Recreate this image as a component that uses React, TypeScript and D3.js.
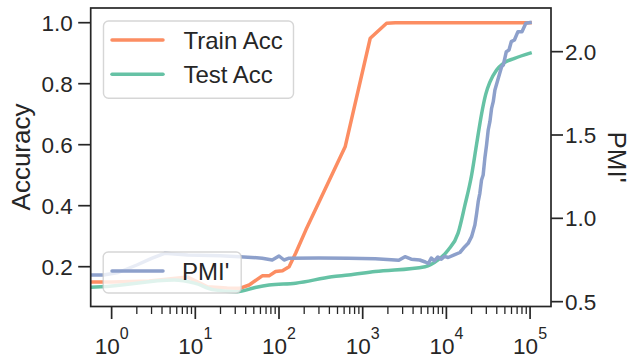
import React from "react";
import * as d3 from "d3";

// ---------- data ----------
const trainSteps = [0.56, 1, 2.8, 8.1, 14, 24, 34, 44, 63, 76, 91, 110, 132, 158, 209, 617, 1230, 1930, 2450, 100000];
const trainAcc = [0.15, 0.15, 0.153, 0.166, 0.134, 0.13, 0.129, 0.14, 0.17, 0.17, 0.184, 0.187, 0.2, 0.244, 0.32, 0.593, 0.949, 0.998, 1.0, 1.0];

const testSteps = [0.56, 0.74, 5.6, 9.8, 16.8, 31.6, 52, 76, 158, 427, 676, 1410, 5560, 7940, 10500, 13800, 16600, 20000, 22900, 26300, 29500, 33100, 39800, 47900, 65300, 100000];
const testAcc = [0.133, 0.134, 0.156, 0.146, 0.124, 0.118, 0.132, 0.14, 0.146, 0.167, 0.173, 0.184, 0.2, 0.222, 0.255, 0.31, 0.4, 0.5, 0.6, 0.7, 0.765, 0.805, 0.845, 0.867, 0.883, 0.9];

const pmiSteps = [0.56, 0.8, 1.2, 2.0, 3.0, 4.3, 8.1, 20, 34, 63, 83, 100, 115, 132, 300, 676, 1410, 2200, 2700, 3200, 3800, 4800, 5600, 6100, 6600, 7200, 7900, 8700, 9500, 10500, 12600, 14500, 16600, 18200, 20000, 21900, 23000, 24000, 25100, 26300, 27500, 28800, 30200, 31600, 33100, 34700, 36300, 38000, 41700, 45700, 47900, 52000, 56000, 59600, 65000, 71600, 80000, 89000, 100000];
const pmiVals = [0.66, 0.66, 0.675, 0.72, 0.76, 0.79, 0.78, 0.775, 0.77, 0.761, 0.75, 0.774, 0.75, 0.761, 0.762, 0.761, 0.757, 0.752, 0.748, 0.77, 0.755, 0.75, 0.738, 0.73, 0.762, 0.745, 0.768, 0.755, 0.772, 0.765, 0.782, 0.795, 0.83, 0.85, 0.89, 0.96, 1.031, 1.1, 1.15, 1.23, 1.26, 1.36, 1.44, 1.53, 1.58, 1.66, 1.7, 1.77, 1.84, 1.91, 1.92, 2.0, 2.01, 2.06, 2.07, 2.12, 2.12, 2.17, 2.175];

const accTicks = [0.2, 0.4, 0.6, 0.8, 1.0];
const accTickLabels = ["0.2", "0.4", "0.6", "0.8", "1.0"];
const pmiTicks = [0.5, 1.0, 1.5, 2.0];
const pmiTickLabels = ["0.5", "1.0", "1.5", "2.0"];
const xExponents = [0, 1, 2, 3, 4, 5];

const seriesNames = ["Train Acc", "Test Acc", "PMI'"];
const colors = ["#fc8d62", "#66c2a5", "#8da0cb"];

// ---------- layout ----------
const W = 636;
const H = 360;
const L = 90.7;
const R = 551;
const T = 8;
const B = 306.5;
const FONT = "'Liberation Sans', Arial, Helvetica, sans-serif";
const INK = "#262626";

export default function App() {
  const x = d3.scaleLog().domain([Math.pow(10, -0.25), Math.pow(10, 5.25)]).range([L, R]);
  const yL = d3.scaleLinear().domain([0.0695, 1.0482]).range([B, T]);
  const yR = d3.scaleLinear().domain([0.471, 2.262]).range([B, T]);

  const mk = (steps: number[], vals: number[], ys: d3.ScaleLinear<number, number>, curve: d3.CurveFactory) =>
    d3.line<number>().x((_, i) => x(steps[i])).y((v) => ys(v)).curve(curve)(vals) || "";

  const trainPath = mk(trainSteps, trainAcc, yL, d3.curveLinear);
  const testPath = mk(testSteps, testAcc, yL, d3.curveMonotoneX);
  const pmiPath = mk(pmiSteps, pmiVals, yR, d3.curveLinear);

  const minor: number[] = [];
  for (let k = 0; k < 5; k++) for (let m = 2; m <= 9; m++) minor.push(m * Math.pow(10, k));

  const tickFs = 22.5;
  const legFs = 24;
  const labFs = 26;
  const lw = 3.5;

  return (
    <svg width={W} height={H} style={{ position: "absolute", left: 0, top: 0, background: "#fff" }} fontFamily={FONT}>
      <defs>
        <clipPath id="plot">
          <rect x={L} y={T} width={R - L} height={B - T} />
        </clipPath>
      </defs>
      <rect x={0} y={0} width={W} height={H} fill="#fff" />

      {/* lines on left axis */}
      <g clipPath="url(#plot)" fill="none" strokeWidth={lw} strokeLinejoin="round" strokeLinecap="square">
        <path d={trainPath} stroke={colors[0]} />
        <path d={testPath} stroke={colors[1]} />
      </g>

      {/* legend 1 */}
      <g>
        <rect x={103.5} y={21} width={190} height={77.3} rx={5} fill="#fff" fillOpacity={0.8} stroke="#cccccc" strokeOpacity={0.8} strokeWidth={1.4} />
        {[0, 1].map((i) => (
          <g key={i}>
            <line x1={112} x2={163} y1={40 + i * 34.3} y2={40 + i * 34.3} stroke={colors[i]} strokeWidth={lw} strokeLinecap="round" />
            <text x={183.5} y={40 + i * 34.3 + 0.716 * legFs / 2} fontSize={legFs} fill={INK}>{seriesNames[i]}</text>
          </g>
        ))}
      </g>

      {/* PMI line (twin axis) */}
      <g clipPath="url(#plot)" fill="none" strokeWidth={lw} strokeLinejoin="round" strokeLinecap="square">
        <path d={pmiPath} stroke={colors[2]} />
      </g>

      {/* legend 2 */}
      <g>
        <rect x={103.2} y={252} width={138} height={41} rx={5} fill="#fff" fillOpacity={0.8} stroke="#cccccc" strokeOpacity={0.8} strokeWidth={1.4} />
        <line x1={112} x2={163} y1={271} y2={271} stroke={colors[2]} strokeWidth={lw} strokeLinecap="round" />
        <text x={182} y={271 + 0.716 * legFs / 2} fontSize={legFs} fill={INK}>{seriesNames[2]}</text>
      </g>

      {/* frame */}
      <rect x={L} y={T} width={R - L} height={B - T} fill="none" stroke={INK} strokeWidth={1.7} />

      {/* x axis ticks */}
      <g stroke={INK}>
        {xExponents.map((e) => (
          <line key={"M" + e} x1={x(Math.pow(10, e))} x2={x(Math.pow(10, e))} y1={B} y2={B + 12.5} strokeWidth={1.7} />
        ))}
        {minor.map((v, i) => (
          <line key={"m" + i} x1={x(v)} x2={x(v)} y1={B} y2={B + 7.5} strokeWidth={1.3} />
        ))}
      </g>
      <g fontSize={tickFs} fill={INK} textAnchor="middle">
        {xExponents.map((e) => (
          <text key={e} x={x(Math.pow(10, e))} y={353.5}>
            10
            <tspan fontSize={16} dy={-14.7}>{String(e)}</tspan>
          </text>
        ))}
      </g>

      {/* left axis */}
      <g stroke={INK} strokeWidth={1.7}>
        {accTicks.map((v) => (
          <line key={v} x1={L - 12.5} x2={L} y1={yL(v)} y2={yL(v)} />
        ))}
      </g>
      <g fontSize={tickFs} fill={INK} textAnchor="end">
        {accTicks.map((v, i) => (
          <text key={v} x={72.8} y={yL(v) + 0.716 * tickFs / 2}>{accTickLabels[i]}</text>
        ))}
      </g>
      <text transform={`translate(${11.7 + 0.716 * labFs},157) rotate(-90)`} textAnchor="middle" fontSize={labFs} fill={INK}>Accuracy</text>

      {/* right axis */}
      <g stroke={INK} strokeWidth={1.7}>
        {pmiTicks.map((v) => (
          <line key={v} x1={R} x2={R + 12} y1={yR(v)} y2={yR(v)} />
        ))}
      </g>
      <g fontSize={tickFs} fill={INK} textAnchor="start">
        {pmiTicks.map((v, i) => (
          <text key={v} x={565} y={yR(v) + 0.716 * tickFs / 2}>{pmiTickLabels[i]}</text>
        ))}
      </g>
      <text transform={`translate(${626.7 - 0.716 * labFs},157) rotate(90)`} textAnchor="middle" fontSize={labFs} fill={INK}>PMI'</text>
    </svg>
  );
}
